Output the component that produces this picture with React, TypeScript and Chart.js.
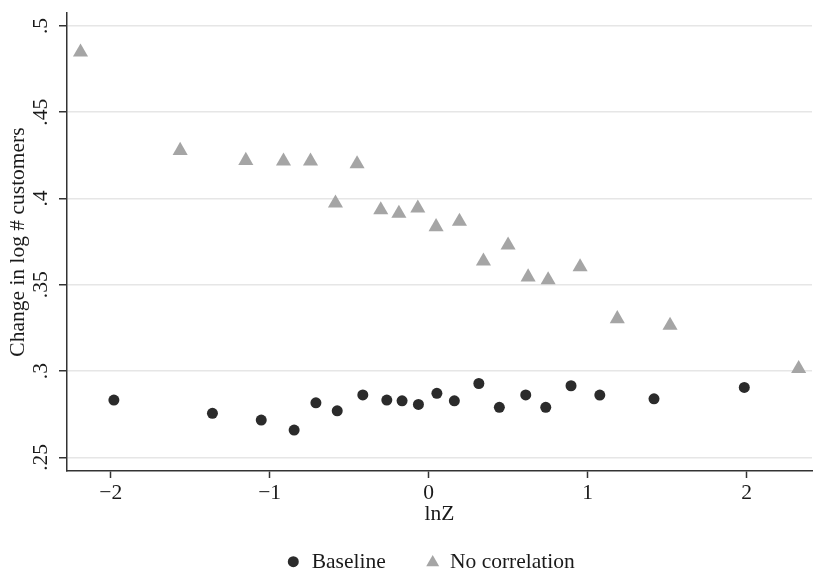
import React, { useEffect, useRef } from 'react';
import { Chart, registerables } from 'chart.js';

Chart.register(...registerables);

const seriesNames = ['Baseline', 'No correlation'];

const baselineX = [-1.980, -1.360, -1.053, -0.846, -0.709, -0.575, -0.414, -0.263, -0.167, -0.064, 0.052, 0.162, 0.316, 0.445, 0.611, 0.737, 0.896, 1.077, 1.418, 1.986];
const baselineY = [0.2832, 0.2755, 0.2716, 0.2658, 0.2816, 0.2770, 0.2862, 0.2832, 0.2828, 0.2807, 0.2871, 0.2828, 0.2928, 0.2790, 0.2862, 0.2790, 0.2915, 0.2861, 0.2839, 0.2905];

const noCorrX = [-2.190, -1.563, -1.150, -0.913, -0.743, -0.450, -0.586, -0.301, -0.187, -0.068, 0.047, 0.194, 0.345, 0.500, 0.626, 0.752, 0.953, 1.187, 1.519, 2.328];
const noCorrY = [0.4848, 0.4278, 0.4220, 0.4216, 0.4216, 0.4201, 0.3973, 0.3934, 0.3914, 0.3944, 0.3836, 0.3867, 0.3637, 0.3730, 0.3545, 0.3528, 0.3603, 0.3303, 0.3265, 0.3014];

const xTicks = [-2, -1, 0, 1, 2];
const xTickLabels = ['\u22122', '\u22121', '0', '1', '2'];
const yTicks = [0.25, 0.3, 0.35, 0.4, 0.45, 0.5];
const yTickLabels = ['.25', '.3', '.35', '.4', '.45', '.5'];

const xTitle = 'lnZ';
const yTitle = 'Change in log # customers';

const FONT = "'Liberation Serif', 'Times New Roman', serif";
const FS = 21.5;
const DARK = '#2b2b2b';
const GRAY = '#a5a5a5';
const TEXT = '#1a1a1a';
const AXIS = '#333333';

function drawTri(ctx: CanvasRenderingContext2D, x: number, y: number, r: number) {
  ctx.beginPath();
  let a = 0;
  ctx.moveTo(x + Math.sin(a) * r, y - Math.cos(a) * r);
  a += (2 * Math.PI) / 3;
  ctx.lineTo(x + Math.sin(a) * r, y - Math.cos(a) * r);
  a += (2 * Math.PI) / 3;
  ctx.lineTo(x + Math.sin(a) * r, y - Math.cos(a) * r);
  ctx.closePath();
  ctx.fill();
}

const customPlugin = {
  id: 'customDraw',
  afterDraw(chart: any) {
    const ctx: CanvasRenderingContext2D = chart.ctx;
    const yScale = chart.scales.y;
    ctx.save();
    ctx.font = `${FS}px ${FONT}`;
    ctx.fillStyle = TEXT;
    ctx.textAlign = 'center';
    ctx.textBaseline = 'middle';
    yTicks.forEach((v, i) => {
      const py = yScale.getPixelForValue(v);
      ctx.save();
      ctx.translate(41, py);
      ctx.rotate(-Math.PI / 2);
      ctx.fillText(yTickLabels[i], 0, 0);
      ctx.restore();
    });
    // legend
    ctx.fillStyle = DARK;
    ctx.beginPath();
    ctx.arc(293.3, 561.7, 5.5, 0, Math.PI * 2);
    ctx.fill();
    ctx.fillStyle = GRAY;
    drawTri(ctx, 432.7, 562.5, 7.5);
    ctx.fillStyle = TEXT;
    ctx.textAlign = 'left';
    ctx.textBaseline = 'alphabetic';
    ctx.fillText(seriesNames[0], 311.7, 568);
    ctx.fillText(seriesNames[1], 450, 568);
    ctx.restore();
  },
};

function ScatterChart() {
  const ref = useRef<HTMLCanvasElement | null>(null);
  useEffect(() => {
    if (!ref.current) return;
    const chart = new Chart(ref.current, {
      type: 'scatter',
      data: {
        datasets: [
          {
            label: seriesNames[0],
            data: baselineX.map((x, i) => ({ x, y: baselineY[i] })),
            pointStyle: 'circle',
            pointRadius: 5.5,
            pointHoverRadius: 5.5,
            backgroundColor: DARK,
            borderWidth: 0,
          },
          {
            label: seriesNames[1],
            data: noCorrX.map((x, i) => ({ x, y: noCorrY[i] })),
            pointStyle: 'triangle',
            pointRadius: 8.7,
            pointHoverRadius: 8.7,
            backgroundColor: GRAY,
            borderWidth: 0,
          },
        ],
      },
      options: {
        responsive: false,
        animation: false,
        events: [],
        layout: { padding: { top: 13, right: 14, left: 0, bottom: 40 } },
        plugins: {
          legend: { display: false },
          tooltip: { enabled: false },
        },
        scales: {
          x: {
            type: 'linear',
            min: -2.275,
            max: 2.412,
            afterBuildTicks: (scale: any) => {
              scale.ticks = xTicks.map((v) => ({ value: v }));
            },
            afterFit: (scale: any) => {
              scale.height = 59;
            },
            ticks: {
              font: { family: FONT, size: FS },
              color: TEXT,
              padding: 2,
              maxRotation: 0,
              callback: (v: any) => {
                const i = xTicks.indexOf(Number(v));
                return i >= 0 ? xTickLabels[i] : '';
              },
            },
            grid: {
              drawOnChartArea: false,
              drawTicks: true,
              tickLength: 7,
              tickColor: AXIS,
              tickWidth: 1.5,
            },
            border: { color: AXIS, width: 1.5 },
            title: {
              display: true,
              text: xTitle,
              font: { family: FONT, size: FS },
              color: TEXT,
              padding: { top: 0, bottom: 3 },
            },
          },
          y: {
            type: 'linear',
            min: 0.2421,
            max: 0.5075,
            afterBuildTicks: (scale: any) => {
              scale.ticks = yTicks.map((v) => ({ value: v }));
            },
            afterFit: (scale: any) => {
              scale.width = 67;
            },
            ticks: {
              display: false,
            },
            grid: {
              drawOnChartArea: true,
              color: '#e6e6e6',
              lineWidth: 1.5,
              drawTicks: true,
              tickLength: 8,
              tickColor: AXIS,
              tickWidth: 1.5,
            },
            border: { color: AXIS, width: 1.5 },
            title: {
              display: true,
              text: yTitle,
              font: { family: FONT, size: FS },
              color: TEXT,
              padding: { top: 5, bottom: 0 },
            },
          },
        },
      },
      plugins: [customPlugin],
    } as any);
    return () => chart.destroy();
  }, []);
  return <canvas ref={ref} width={826} height={570} style={{ display: 'block' }} />;
}

export default function App() {
  return (
    <div style={{ position: 'absolute', left: 0, top: 0, width: 826, height: 570, background: '#fff' }}>
      <ScatterChart />
    </div>
  );
}
